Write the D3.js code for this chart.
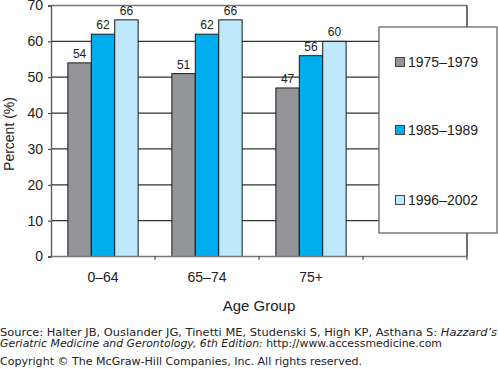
<!DOCTYPE html>
<html>
<head>
<meta charset="utf-8">
<script src="https://cdn.jsdelivr.net/npm/d3@7"></script>
<style>
  html, body { margin: 0; padding: 0; background: #fff; }
  svg { display: block; }
</style>
</head>
<body>
<div id="chart"></div>
<script>
// chart data
const groups = ['0–64', '65–74', '75+', ''];
const series = ['1975–1979', '1985–1989', '1996–2002'];
const values1975 = [54, 51, 47];
const values1985 = [62, 62, 56];
const values1996 = [66, 66, 60];
const yTicks = [0, 10, 20, 30, 40, 50, 60, 70];
const colors = ['#939598', '#00aeef', '#bde9fb'];

const W = 498, H = 369;
const plotLeft = 51, plotRight = 467, plotTop = 5.5, plotBottom = 256.5;

const svg = d3.select('#chart').append('svg')
  .attr('width', W)
  .attr('height', H)
  .style('font-family', '"Liberation Sans", Arial, sans-serif');

svg.append('rect').attr('width', W).attr('height', H).attr('fill', '#fff');

const x = d3.scaleBand().domain(groups).range([plotLeft, plotRight]).padding(0);
const x1 = d3.scaleBand().domain(series).range([0, x.bandwidth()])
  .paddingInner(0).paddingOuter(0.72);
const y = d3.scaleLinear().domain([0, 70]).range([plotBottom, plotTop]);

// gridlines (run behind the legend box)
svg.append('g')
  .selectAll('line')
  .data(yTicks.filter(d => d > 0 && d < 70))
  .join('line')
  .attr('x1', plotLeft).attr('x2', plotRight)
  .attr('y1', d => y(d)).attr('y2', d => y(d))
  .attr('stroke', '#333').attr('stroke-width', 1.2);

// frame: top in gray, right in black
svg.append('line')
  .attr('x1', plotLeft).attr('x2', plotRight).attr('y1', y(70)).attr('y2', y(70))
  .attr('stroke', '#777').attr('stroke-width', 1.3);
svg.append('line')
  .attr('x1', plotRight).attr('x2', plotRight).attr('y1', y(70)).attr('y2', y(0))
  .attr('stroke', '#111').attr('stroke-width', 1.2);

// bars
const rows = groups.slice(0, 3).map((g, i) => ({
  group: g,
  vals: [values1975[i], values1985[i], values1996[i]]
}));

const gGroups = svg.append('g')
  .selectAll('g')
  .data(rows)
  .join('g')
  .attr('transform', d => `translate(${x(d.group)},0)`);

gGroups.selectAll('rect')
  .data(d => d.vals.map((v, j) => ({ s: series[j], v: v, c: colors[j] })))
  .join('rect')
  .attr('x', d => x1(d.s))
  .attr('y', d => y(d.v))
  .attr('width', x1.bandwidth())
  .attr('height', d => y(0) - y(d.v))
  .attr('fill', d => d.c)
  .attr('stroke', '#1a1a1a')
  .attr('stroke-width', 1);

gGroups.selectAll('text')
  .data(d => d.vals.map((v, j) => ({ s: series[j], v: v })))
  .join('text')
  .attr('x', d => x1(d.s) + x1.bandwidth() / 2)
  .attr('y', d => y(d.v) - 5)
  .attr('text-anchor', 'middle')
  .attr('font-size', 12)
  .attr('fill', '#222')
  .text(d => d.v);

// y axis
const yAxis = svg.append('g')
  .attr('transform', `translate(${plotLeft},0)`)
  .call(d3.axisLeft(y).tickValues(yTicks).tickSize(3).tickPadding(5));
yAxis.select('.domain').attr('stroke', '#555').attr('stroke-width', 1.3);
yAxis.selectAll('.tick line').attr('stroke', '#333');
yAxis.selectAll('.tick text')
  .attr('font-size', 14)
  .attr('font-family', '"Liberation Sans", Arial, sans-serif')
  .attr('fill', '#222');

// x axis: ticks at band boundaries
const xAxis = svg.append('g')
  .attr('transform', `translate(0,${plotBottom})`);
xAxis.append('line')
  .attr('x1', plotLeft).attr('x2', plotRight)
  .attr('stroke', '#777').attr('stroke-width', 1.5);
xAxis.selectAll('line.tk')
  .data(groups.slice(1).concat(['end']))
  .join('line')
  .attr('class', 'tk')
  .attr('x1', d => d === 'end' ? plotRight : x(d))
  .attr('x2', d => d === 'end' ? plotRight : x(d))
  .attr('y1', 0).attr('y2', 3.5)
  .attr('stroke', '#333');
xAxis.selectAll('text')
  .data(groups.slice(0, 3))
  .join('text')
  .attr('x', d => x(d) + x.bandwidth() / 2)
  .attr('y', 25.5)
  .attr('text-anchor', 'middle')
  .attr('font-size', 14)
  .attr('fill', '#222')
  .text(d => d);

// axis titles
svg.append('text')
  .attr('transform', 'translate(14,134) rotate(-90)')
  .attr('text-anchor', 'middle')
  .attr('font-size', 14)
  .attr('fill', '#222')
  .text('Percent (%)');

svg.append('text')
  .attr('x', (plotLeft + plotRight) / 2)
  .attr('y', 311)
  .attr('text-anchor', 'middle')
  .attr('font-size', 15)
  .attr('fill', '#222')
  .text('Age Group');

// legend
const legend = svg.append('g');
legend.append('rect')
  .attr('x', 379).attr('y', 27)
  .attr('width', 118).attr('height', 206)
  .attr('fill', '#fff')
  .attr('stroke', '#666').attr('stroke-width', 1.3);

const legendY = [62, 130, 200];
const items = legend.selectAll('g.item')
  .data(series)
  .join('g')
  .attr('class', 'item')
  .attr('transform', (d, i) => `translate(395,${legendY[i]})`);
items.append('rect')
  .attr('x', 0.5).attr('y', -4.5)
  .attr('width', 9).attr('height', 9)
  .attr('fill', (d, i) => colors[i])
  .attr('stroke', '#444').attr('stroke-width', 1);
items.append('text')
  .attr('x', 13).attr('y', 5)
  .attr('font-size', 14)
  .attr('fill', '#222')
  .text(d => d);

// source notes
const notes = svg.append('g')
  .attr('font-family', '"DejaVu Sans", Verdana, sans-serif')
  .attr('font-size', 10)
  .attr('fill', '#222');

const line1 = notes.append('text').attr('x', 0).attr('y', 336)
  .attr('textLength', 497).attr('lengthAdjust', 'spacingAndGlyphs');
line1.append('tspan').text('Source: Halter JB, Ouslander JG, Tinetti ME, Studenski S, High KP, Asthana S: ');
line1.append('tspan').attr('font-style', 'italic').text('Hazzard’s');

const line2 = notes.append('text').attr('x', 0).attr('y', 347)
  .attr('textLength', 442).attr('lengthAdjust', 'spacingAndGlyphs');
line2.append('tspan').attr('font-style', 'italic').text('Geriatric Medicine and Gerontology, 6th Edition:');
line2.append('tspan').text(' http://www.accessmedicine.com');

notes.append('text').attr('x', 0).attr('y', 365)
  .attr('textLength', 362).attr('lengthAdjust', 'spacingAndGlyphs')
  .text('Copyright © The McGraw-Hill Companies, Inc. All rights reserved.');
</script>
</body>
</html>
